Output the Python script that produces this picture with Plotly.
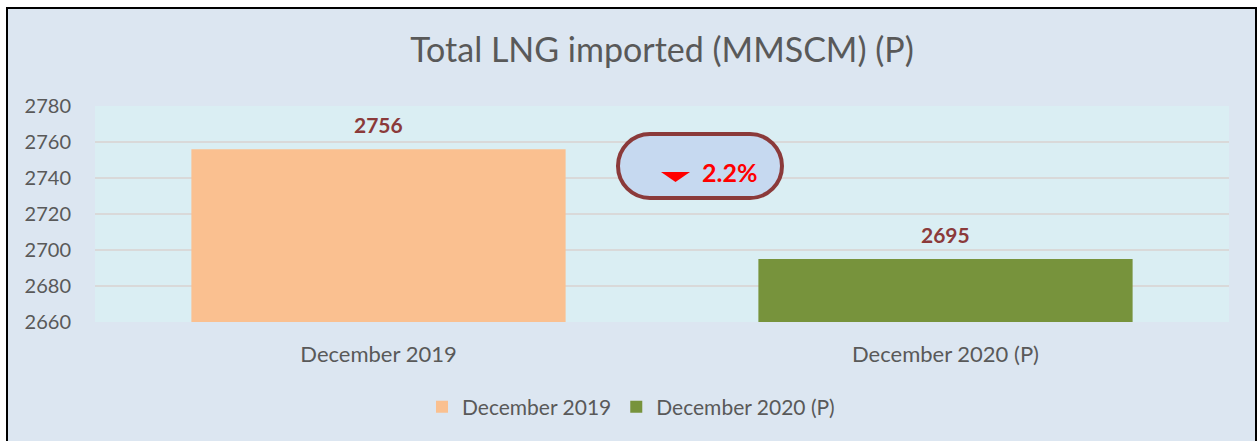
import plotly.graph_objects as go

categories = ["December 2019", "December 2020 (P)"]
values = [2756, 2695]
colors = ["#FAC090", "#77933C"]
change_text = "2.2%"
y_ticks = [2660, 2680, 2700, 2720, 2740, 2760, 2780]

W, H = 1260, 441
L, R, T, B = 95, 31, 106, 119
PW, PH = W - L - R, H - T - B

def px(x):
    return (x - L) / PW

def py(y):
    return (H - B - y) / PH

FONT = "Lato"

fig = go.Figure()
for cat, val, col in zip(categories, values, colors):
    fig.add_trace(go.Bar(x=[cat], y=[val], name=cat, marker=dict(color=col, line=dict(width=0)),
                         width=0.66, hoverinfo="x+y"))
    fig.add_annotation(x=cat, y=val, text=f"<b>{val}</b>", showarrow=False, yanchor="bottom",
                       yshift=10, font=dict(family=FONT, size=21, color="#8B3A3A"))

shapes = []
# outer frame
shapes.append(dict(type="rect", xref="paper", yref="paper", x0=px(7), x1=px(1256), y0=py(8), y1=py(450),
                   fillcolor="#DCE6F1", line=dict(color="#000000", width=2), layer="below"))
# plot area background
shapes.append(dict(type="rect", xref="paper", yref="paper", x0=0, x1=1, y0=0, y1=1,
                   fillcolor="#DAEEF3", line=dict(width=0), layer="below"))

# pill
x0, x1, y0, y1 = 618, 782, 134, 198
r = (y1 - y0) / 2
k = 0.5523 * r
def P(x, y):
    return f"{px(x):.6f},{py(y):.6f}"
path = (f"M {P(x0 + r, y0)} L {P(x1 - r, y0)} "
        f"C {P(x1 - r + k, y0)} {P(x1, y0 + r - k)} {P(x1, y0 + r)} "
        f"C {P(x1, y0 + r + k)} {P(x1 - r + k, y1)} {P(x1 - r, y1)} "
        f"L {P(x0 + r, y1)} "
        f"C {P(x0 + r - k, y1)} {P(x0, y0 + r + k)} {P(x0, y0 + r)} "
        f"C {P(x0, y0 + r - k)} {P(x0 + r - k, y0)} {P(x0 + r, y0)} Z")
shapes.append(dict(type="path", xref="paper", yref="paper", path=path,
                   fillcolor="#C6D9F0", line=dict(color="#8B3A3A", width=4), layer="above"))
# down triangle
tri = f"M {P(661, 172)} L {P(690, 172)} L {P(675.5, 182)} Z"
shapes.append(dict(type="path", xref="paper", yref="paper", path=tri,
                   fillcolor="#FF0000", line=dict(width=0), layer="above"))

fig.add_annotation(xref="paper", yref="paper", x=px(700), y=py(172), xanchor="left", yanchor="middle",
                   text=f"<b>{change_text}</b>", showarrow=False,
                   font=dict(family=FONT, size=25, color="#FF0000"))

fig.update_layout(
    width=W, height=H,
    margin=dict(l=L, r=R, t=T, b=B),
    paper_bgcolor="#FFFFFF",
    plot_bgcolor="rgba(0,0,0,0)",
    barmode="overlay",
    bargap=0.34,
    shapes=shapes,
    title=dict(text="Total LNG imported (MMSCM) (P)", x=0.5, xref="paper", xanchor="center",
               y=1 - 50 / H, yanchor="middle", font=dict(family=FONT, size=34, color="#595959")),
    font=dict(family=FONT, color="#595959"),
    showlegend=True,
    legend=dict(orientation="h", x=0.5 - 31 / PW, xref="paper", xanchor="center", y=py(407), yanchor="middle",
                font=dict(family=FONT, size=21, color="#595959"), bgcolor="rgba(0,0,0,0)",
                itemwidth=30, traceorder="normal"),
    xaxis=dict(type="category", categoryorder="array", categoryarray=categories,
               showgrid=False, zeroline=False, showline=False,
               ticks="outside", ticklen=13, tickcolor="rgba(0,0,0,0)",
               tickfont=dict(family=FONT, size=22, color="#595959")),
    yaxis=dict(range=[2660, 2780], tickvals=y_ticks, showgrid=True, gridcolor="#D9D9D9", gridwidth=2,
               zeroline=False, showline=False,
               ticks="outside", ticklen=19, tickcolor="rgba(0,0,0,0)",
               tickfont=dict(family=FONT, size=20, color="#595959")),
)

fig.write_html("out.html", config={"displayModeBar": False},
               post_script="document.body.style.margin='0';document.body.style.padding='0';")
